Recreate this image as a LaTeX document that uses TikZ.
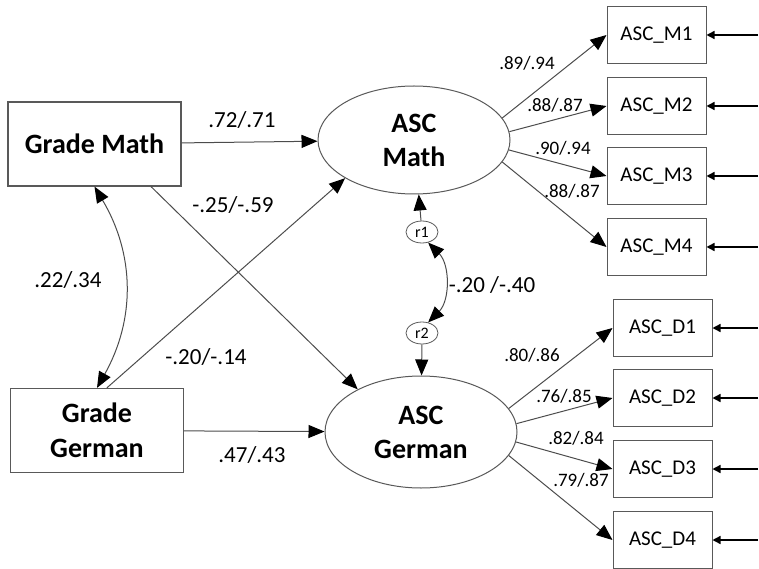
\documentclass[tikz,border=0pt]{standalone}
\usepackage{fontspec}
\setmainfont{Carlito}
\usetikzlibrary{arrows.meta, calc, positioning, shapes.geometric}

\tikzset{
    obsbox/.style={draw=black!65, line width=0.6pt, minimum width=86.5pt, minimum height=42pt,
        align=center, font=\fontsize{14}{17.5}\selectfont\bfseries},
    itembox/.style={draw=black!65, line width=0.5pt, minimum width=49.5pt, minimum height=28.5pt,
        font=\fontsize{10.5}{12}\selectfont},
    latent/.style={ellipse, draw=black!65, line width=0.5pt, inner sep=0pt, minimum width=96pt,
        minimum height=54pt, align=center, font=\fontsize{14}{17}\selectfont\bfseries},
    resid/.style={ellipse, draw=black!65, line width=0.4pt, inner sep=0pt, minimum width=16pt,
        minimum height=11pt, font=\fontsize{8}{9}\selectfont},
    reg/.style={draw=black!70, line width=0.5pt, -{Triangle[length=8pt,width=6.5pt,black]}},
    cov/.style={draw=black!70, line width=0.5pt,
        {Triangle[length=8pt,width=6.5pt,black]}-{Triangle[length=8pt,width=6.5pt,black]}},
    err/.style={draw=black, line width=0.7pt, -{Triangle[length=4pt,width=4pt]}},
    coef/.style={font=\fontsize{11.5}{13}\selectfont},
    load/.style={font=\fontsize{9.5}{11}\selectfont}
}

\begin{document}
\begin{tikzpicture}[x=0.5pt, y=0.5pt]
    \useasboundingbox (0,0) rectangle (759,568);

    \node[obsbox] (gm) at (94.5,424) {Grade Math};
    \node[obsbox] (gg) at (97,137.5) {Grade\\German};
    \node[latent] (am) at (414,428) {ASC\\Math};
    \node[latent, minimum height=56pt] (ag) at (421,136) {ASC\\German};
    \node[resid] (r1) at (422,336) {r1};
    \node[resid] (r2) at (422,235) {r2};

    \foreach \n/\y in {1/533, 2/462, 3/392, 4/321} {
        \node[itembox] (m\n) at (656.5,\y) {ASC\_M\n};
        \coordinate (em\n) at (758,\y);
        \draw (em\n) edge[err] (m\n);
    }
    \foreach \n/\y in {1/240, 2/170, 3/99, 4/28} {
        \node[itembox] (d\n) at (662.5,\y) {ASC\_D\n};
        \coordinate (ed\n) at (758,\y);
        \draw (ed\n) edge[err] (d\n);
    }

    \draw
    (gm) edge[reg] (am)
    (gg) edge[reg] (ag)
    (gm.-37) edge[reg] (ag.146)
    (gg.77) edge[reg] (am.209)
    (gm.south) edge[cov, bend left=30] (gg.north)
    (r1) edge[reg] (am)
    (r2) edge[reg] (ag)
    (r1.-60) edge[cov, bend left=45] (r2.60)
    (am.14) edge[reg] (m1.west)
    (am.5) edge[reg] (m2.west)
    (am.-6) edge[reg] (m3.west)
    (am.-14) edge[reg] (m4.west)
    (ag.15) edge[reg] (d1.west)
    (ag.5) edge[reg] (d2.west)
    (ag.-6) edge[reg] (d3.west)
    (ag.-15) edge[reg] (d4.west);

    \node[coef] (c1) at (242,448) {.72/.71};
    \node[coef] (c2) at (233,363) {-.25/-.59};
    \node[coef] (c3) at (68,288) {.22/.34};
    \node[coef] (c4) at (206,211) {-.20/-.14};
    \node[coef] (c5) at (252,113) {.47/.43};
    \node[coef] (c6) at (492,283) {-.20 /-.40};

    \node[load] (lm1) at (527,505) {.89/.94};
    \node[load] (lm2) at (555,463) {.88/.87};
    \node[load] (lm3) at (563,420) {.90/.94};
    \node[load] (lm4) at (572,377) {.88/.87};
    \node[load] (ld1) at (532,213) {.80/.86};
    \node[load] (ld2) at (564,172) {.76/.85};
    \node[load] (ld3) at (576,130) {.82/.84};
    \node[load] (ld4) at (581,88) {.79/.87};
\end{tikzpicture}
\end{document}
